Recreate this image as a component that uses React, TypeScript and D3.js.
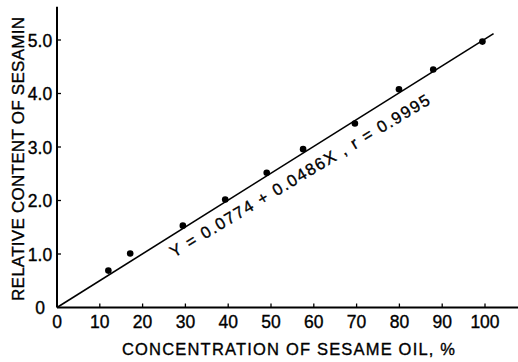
import React, { useEffect, useRef } from 'react';
import * as d3 from 'd3';

// concentration of sesame oil (%) and relative sesamin content
const concentration = [12.0, 17.1, 29.4, 39.3, 49.0, 57.5, 69.6, 79.9, 87.9, 99.4];
const sesamin = [0.69, 1.01, 1.53, 2.02, 2.52, 2.96, 3.44, 4.08, 4.45, 4.97];

// fitted line end points as drawn
const fitX = [0, 102];
const fitY = [0.0, 5.12];

const xTicks = [0, 10, 20, 30, 40, 50, 60, 70, 80, 90, 100];
const yTicks = [0, 1, 2, 3, 4, 5];
const yTickLabels = ['0', '1.0', '2.0', '3.0', '4.0', '5.0'];

const equation = 'Y = 0.0774 + 0.0486X ,  r = 0.9995';

const W = 518;
const H = 362;

export default function App() {
  const ref = useRef<SVGSVGElement>(null);

  useEffect(() => {
    const svg = d3.select(ref.current);
    svg.selectAll('*').remove();

    const x = d3.scaleLinear().domain([0, 100]).range([57, 485]);
    const y = d3.scaleLinear().domain([0, 5]).range([307.5, 40]);
    const font = '"Liberation Sans", Arial, sans-serif';

    // axes
    svg.append('line')
      .attr('x1', x(0)).attr('x2', x(0))
      .attr('y1', y(0)).attr('y2', y(5.62))
      .attr('stroke', '#000').attr('stroke-width', 2);
    svg.append('line')
      .attr('x1', x(0)).attr('x2', W)
      .attr('y1', y(0)).attr('y2', y(0))
      .attr('stroke', '#000').attr('stroke-width', 2);

    // x ticks
    svg.append('g').selectAll('line')
      .data(xTicks.slice(1))
      .join('line')
      .attr('x1', d => x(d)).attr('x2', d => x(d))
      .attr('y1', y(0)).attr('y2', y(0) - 4)
      .attr('stroke', '#000').attr('stroke-width', 1.3);

    const labels = svg.append('g')
      .style('font-family', font)
      .attr('stroke', '#000')
      .attr('stroke-width', 0.35);

    labels.append('g').selectAll('text')
      .data(xTicks)
      .join('text')
      .attr('x', d => x(d))
      .attr('y', 328)
      .attr('text-anchor', 'middle')
      .style('font-size', '17.5px')
      .text(d => String(d));

    // y ticks
    svg.append('g').selectAll('line')
      .data(yTicks.slice(1))
      .join('line')
      .attr('x1', x(0)).attr('x2', x(0) + 4)
      .attr('y1', d => y(d)).attr('y2', d => y(d))
      .attr('stroke', '#000').attr('stroke-width', 1.3);

    labels.append('g').selectAll('text')
      .data(yTicks)
      .join('text')
      .attr('x', 40)
      .attr('y', d => y(d) + 6.5)
      .attr('text-anchor', 'middle')
      .style('font-size', '17.5px')
      .text((d, i) => yTickLabels[i]);

    // axis titles
    labels.append('text')
      .attr('x', 122)
      .attr('y', 355)
      .attr('textLength', 333)
      .attr('lengthAdjust', 'spacing')
      .style('font-size', '16.5px')
      .text('CONCENTRATION  OF  SESAME  OIL, %');

    labels.append('text')
      .attr('transform', 'translate(24,301) rotate(-90)')
      .attr('textLength', 284)
      .attr('lengthAdjust', 'spacing')
      .style('font-size', '17px')
      .text('RELATIVE  CONTENT  OF  SESAMIN');

    // fitted line
    const line = d3.line<number>()
      .x(d => x(fitX[d]))
      .y(d => y(fitY[d]));
    svg.append('path')
      .attr('d', line([0, 1]))
      .attr('fill', 'none')
      .attr('stroke', '#000')
      .attr('stroke-width', 1.6);

    // points
    svg.append('g').selectAll('circle')
      .data(concentration)
      .join('circle')
      .attr('cx', d => x(d))
      .attr('cy', (d, i) => y(sesamin[i]))
      .attr('r', 3.3)
      .attr('fill', '#000');

    // equation label
    labels.append('text')
      .attr('transform', 'translate(174,258) rotate(-31)')
      .attr('textLength', 300)
      .attr('lengthAdjust', 'spacing')
      .style('font-size', '16.5px')
      .text(equation);
  }, []);

  return (
    <svg
      ref={ref}
      width={W}
      height={H}
      style={{ position: 'absolute', left: 0, top: 0, background: '#fff' }}
    />
  );
}
